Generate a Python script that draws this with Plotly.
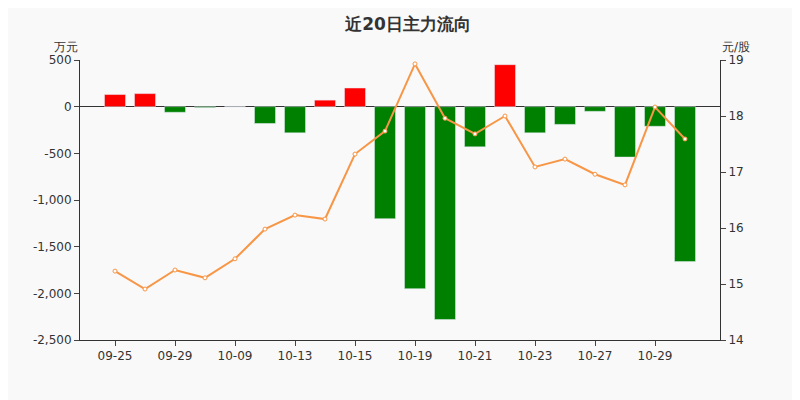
import plotly.graph_objects as go

dates = ["09-25", "09-26", "09-29", "09-30", "10-09", "10-10", "10-13", "10-14",
         "10-15", "10-16", "10-19", "10-20", "10-21", "10-22", "10-23", "10-26",
         "10-27", "10-28", "10-29", "10-30"]
flow = [130, 140, -60, -10, 0, -180, -280, 70, 200, -1200,
        -1950, -2280, -430, 450, -280, -190, -50, -540, -210, -1660]
price = [15.23, 14.91, 15.25, 15.11, 15.45, 15.98, 16.23, 16.16, 17.32, 17.73,
         18.93, 17.96, 17.68, 18.00, 17.09, 17.23, 16.96, 16.77, 18.16, 17.59]
flow_ticks = [500, 0, -500, -1000, -1500, -2000, -2500]
flow_labels = ["500", "0", "-500", "-1,000", "-1,500", "-2,000", "-2,500"]

colors = ["#ff0000" if v > 0 else "#008000" for v in flow]
font = dict(family="DejaVu Sans", size=12, color="#333")

fig = go.Figure()
fig.add_trace(go.Bar(x=dates, y=flow, marker_color=colors, width=0.7, yaxis="y"))
fig.add_trace(go.Scatter(
    x=dates, y=price, yaxis="y2", mode="lines+markers",
    line=dict(color="#f79646", width=2),
    marker=dict(size=4, color="white", line=dict(color="#f79646", width=1)),
))

fig.update_layout(
    width=800, height=400,
    paper_bgcolor="#f9f9f9", plot_bgcolor="#f9f9f9",
    showlegend=False, font=font,
    margin=dict(l=72, r=88, t=52, b=68),
    title=dict(text="<b>近20日主力流向</b>", x=0.5, xanchor="center", y=0.975,
               font=dict(size=17, color="#333")),
    xaxis=dict(type="category", tickmode="array", tickvals=dates[::2], ticktext=dates[::2],
               showline=True, linecolor="#333", ticks="outside", ticklen=5,
               showgrid=False),
    yaxis=dict(range=[-2500, 500], tickmode="array", tickvals=flow_ticks,
               ticktext=flow_labels, showgrid=False, zeroline=True,
               zerolinecolor="#333", zerolinewidth=1, showline=True, linecolor="#333",
               ticks="outside", ticklen=5),
    yaxis2=dict(range=[14, 19], dtick=1, overlaying="y", side="right",
                showgrid=False, zeroline=False, showline=True, linecolor="#333",
                ticks="outside", ticklen=5),
    annotations=[
        dict(text="万元", xref="paper", yref="paper", x=0, y=1, yshift=22,
             xanchor="right", showarrow=False, font=font),
        dict(text="元/股", xref="paper", yref="paper", x=1, y=1, yshift=22,
             xanchor="left", showarrow=False, font=font),
    ],
)

fig.write_html("out.html")
